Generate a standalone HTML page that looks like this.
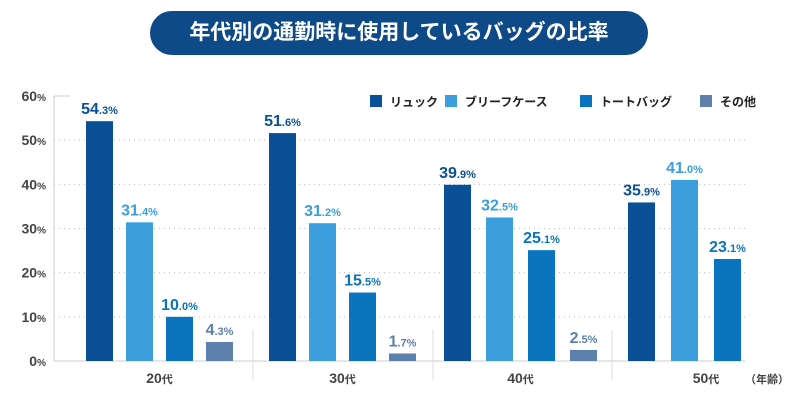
<!DOCTYPE html>
<html><head><meta charset="utf-8"><style>
body{margin:0;background:#fff;font-family:"Liberation Sans","Noto Sans CJK JP",sans-serif;}
#wrap{position:relative;width:800px;height:400px;overflow:hidden;}
#title{position:absolute;left:150px;top:11px;width:498px;height:44px;border-radius:22px;background:#0e4a88;color:#fff;font-size:21px;font-weight:bold;text-align:center;line-height:44px;}
</style></head><body>
<div id="wrap">
<div id="title">年代別の通勤時に使用しているバッグの比率</div>
<svg id="svg" width="800" height="400" style="position:absolute;left:0;top:0"></svg>
</div>
<script>
const categories=["20代","30代","40代","50代"];
const seriesNames=["リュック","ブリーフケース","トートバッグ","その他"];
const rucksack=[54.3,51.6,39.9,35.9];
const briefcase=[31.4,31.2,32.5,41.0];
const tote=[10.0,15.5,25.1,23.1];
const other=[4.3,1.7,2.5,null];
const yTicks=[0,10,20,30,40,50,60];
const series=[rucksack,briefcase,tote,other];
const colors=["#0a5096","#3a9fdc","#0a74be","#5d80ad"];
const groupStart=[86,269,444,628];
const barPitch=[40,40,42,43];
const barW=27;
const y0=361,yTop=96;
function y(v){return y0-(v/60)*(y0-yTop);}
const svg=document.getElementById('svg');
const NS='http://www.w3.org/2000/svg';
function mk(t,a){const e=document.createElementNS(NS,t);for(const k in a)e.setAttribute(k,a[k]);svg.appendChild(e);return e;}
yTicks.forEach(t=>{
  if(t>0&&t<60){const l=mk('line',{x1:54,x2:745,y1:y(t),y2:y(t),stroke:'#bbb','stroke-dasharray':'1 4'});
  
  }
  const tx=mk('text',{x:46,y:y(t)+5,'text-anchor':'end','font-size':14,fill:'#444','font-weight':'bold'});
  
  
  tx.innerHTML=t+'<tspan font-size="10">%</tspan>';
});
let ax=mk('line',{x1:54,x2:54,y1:96,y2:361,stroke:'#ccc'});


let xa=mk('line',{x1:54,x2:745,y1:361,y2:361,stroke:'#ccc'});


let tk=mk('line',{x1:54,x2:70,y1:96,y2:96,stroke:'#ccc'});


[253,433,612].forEach(x=>{const d=mk('line',{x1:x,x2:x,y1:330,y2:380,stroke:'#ddd'});

});
categories.forEach((c,g)=>{
  series.forEach((s,i)=>{
    const v=s[g]; if(v==null)return;
    const x=groupStart[g]+i*barPitch[g];
    const r=mk('rect',{x:x,y:y(v),width:barW,height:y0-y(v),fill:colors[i]});
    
    
    const parts=v.toFixed(1).split('.');
    const t=mk('text',{x:x+barW/2,y:y(v)-7,'text-anchor':'middle','font-size':16,'font-weight':'bold',fill:colors[i]});
    
    
    t.innerHTML=parts[0]+'<tspan font-size="11">.'+parts[1]+'%</tspan>';
  });
  const cx=groupStart[g]+(3*barPitch[g]+barW)/2;
  const ct=mk('text',{x:cx,y:383,'text-anchor':'middle','font-size':14,'font-weight':'bold',fill:'#444'});
  
  
  ct.innerHTML=c.slice(0,2)+'<tspan font-size="11">代</tspan>';
});
let u=mk('text',{x:745,y:383,'font-size':11,'font-weight':'bold',fill:'#444'});


u.textContent='（年齢）';
const legX=[370,445,580,700];
seriesNames.forEach((n,i)=>{
  const r=mk('rect',{x:legX[i],y:95,width:12,height:12,fill:colors[i]});
  
  
  const t=mk('text',{x:legX[i]+20,y:106,'font-size':12,'font-weight':'bold',fill:'#222'});
  
  
  t.textContent=n;
});
</script>
</body></html>
